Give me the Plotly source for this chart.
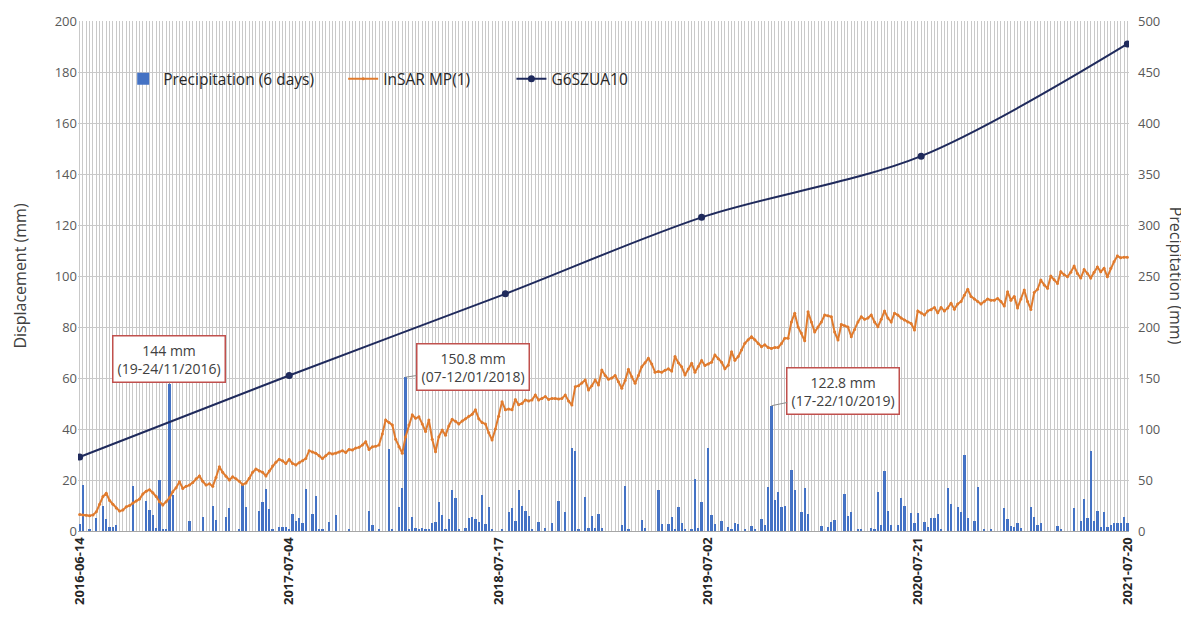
import plotly.graph_objects as go

# ---------------- data ----------------
tick_labels = ["2016-06-14", "2017-07-04", "2018-07-17", "2019-07-02", "2020-07-21", "2021-07-20"]
tick_index = [0, 63, 126, 189, 252, 315]

precip_6days = [
    7, 45, 0, 1, 0, 13, 0, 25, 12, 4, 4, 6, 0, 0, 0, 0, 44, 0, 0, 0,
    29, 21, 16, 3, 50, 2, 2, 144, 35, 0, 0, 0, 0, 10, 0, 0, 0, 14, 0, 0,
    25, 11, 0, 0, 14, 23, 0, 0, 1, 45, 24, 0, 0, 0, 20, 28, 41, 22, 2, 0,
    4, 4, 4, 1, 17, 10, 13, 8, 41, 0, 17, 34, 1, 1, 0, 9, 0, 16, 0, 0,
    0, 2, 0, 0, 0, 0, 0, 20, 6, 0, 2, 0, 0, 80, 1, 0, 24, 42, 150.8, 1,
    14, 3, 1, 3, 2, 2, 8, 9, 28, 16, 2, 12, 40, 32, 2, 0, 3, 13, 14, 12,
    9, 35, 7, 24, 2, 0, 0, 2, 0, 19, 23, 10, 40, 25, 20, 15, 2, 0, 9, 0,
    3, 0, 8, 0, 29, 0, 19, 0, 81, 78, 1, 0, 33, 3, 15, 3, 17, 3, 0, 0,
    0, 0, 0, 6, 44, 2, 0, 0, 0, 11, 3, 0, 0, 0, 40, 7, 0, 7, 14, 2,
    24, 8, 1, 0, 2, 51, 3, 28, 0, 81, 16, 7, 0, 10, 0, 4, 2, 8, 7, 0,
    1, 0, 5, 1, 0, 12, 6, 43, 122.8, 30, 38, 24, 25, 0, 60, 40, 0, 19, 42, 17,
    0, 0, 0, 5, 0, 4, 9, 11, 0, 0, 36, 15, 19, 0, 1, 1, 0, 0, 3, 2,
    38, 6, 59, 20, 6, 0, 6, 32, 25, 0, 18, 8, 18, 0, 9, 4, 13, 13, 17, 1,
    0, 42, 26, 0, 24, 19, 75, 13, 0, 10, 43, 0, 1, 0, 2, 0, 0, 0, 23, 12,
    5, 4, 8, 3, 0, 0, 24, 14, 6, 8, 0, 0, 0, 0, 5, 1, 0, 0, 0, 23,
    0, 10, 31, 13, 78, 10, 20, 4, 19, 4, 6, 8, 8, 8, 14, 8,
]

insar_mp1 = [
    6.5, 6.3, 6.2, 6.0, 6.3, 7.5, 10.5, 13.5, 14.8, 12, 10.5, 9, 7.8, 8.2, 9.5, 10, 11, 11.8, 12.5, 14.5,
    15.6, 16.2, 15, 13.5, 11.5, 10.2, 11.5, 13, 15.4, 17, 19.3, 16.7, 17.5, 18, 19, 20.5, 21.6, 19.5, 18, 18.5,
    17.5, 21, 25.2, 23, 21.5, 20, 21.3, 20.5, 19.5, 18.2, 18.8, 20.7, 23, 24.3, 23.5, 23, 21.6, 23.5, 25.5, 27,
    28.1, 27.5, 26.5, 28, 26.5, 25.9, 26.8, 27.5, 28.4, 31.5, 31, 30.5, 29.5, 28.4, 29.5, 30.6, 30.2, 30.5, 31, 31.5,
    30.8, 32, 31.8, 32.5, 32.8, 33.7, 35, 32, 33, 33.2, 33.7, 38, 43.5, 42.5, 41.6, 36, 33, 30.5, 37, 41.6,
    45.5, 44.2, 44.8, 42, 39, 43.5, 36, 31.1, 37, 39.6, 37.5, 41.2, 43.8, 43, 42, 43.1, 44, 45, 45.8, 47.5,
    44, 42.5, 42, 38.5, 35.7, 40, 45, 50.7, 47.5, 47.8, 47.5, 51.6, 49.5, 50, 51.4, 51, 51.4, 53.3, 51.4, 52,
    52.7, 51.6, 52, 52, 51.8, 52, 53.3, 51, 49.4, 56.6, 57, 58, 59.2, 55.3, 57, 59.2, 57.3, 63.1, 61, 59.5,
    60, 61, 58.5, 56, 59, 63.4, 60.5, 57.9, 61, 64.4, 66, 67.7, 65.5, 62.3, 62.5, 62.3, 63, 63.6, 62.7, 68.4,
    66, 64.4, 61.2, 63.5, 65.8, 62.3, 64.5, 66.9, 64.9, 65.5, 66.2, 69, 67.5, 66.2, 63.6, 65, 70.3, 67, 68.4, 71,
    73.6, 75, 76.2, 75, 73.5, 72.3, 73, 72, 71.6, 72, 72, 73.5, 75.6, 75.6, 82, 85.4, 80, 77.6, 74.6, 86,
    82, 78, 80, 82, 84.7, 84.4, 84, 78, 74.9, 81, 80.5, 80, 76.2, 79, 82, 84, 83, 83.5, 84.7, 82,
    80.1, 83, 86.3, 83.5, 82, 85.4, 84.7, 83.5, 82.7, 82, 81.4, 78.8, 86.3, 85.5, 84.7, 86.3, 86.8, 87.6, 85.6, 87.6,
    86.3, 87.5, 89.3, 87, 89, 90, 92.5, 94.8, 92, 91, 90, 89, 90, 91, 90.5, 90.5, 91.2, 90, 88.2, 93.8,
    90.5, 92, 87.5, 91, 94.5, 90, 86.9, 93.5, 94.8, 98.4, 96.5, 95.2, 100, 98.5, 97.1, 101.7, 100.5, 99.7, 101.5, 103.9,
    101, 99.2, 102.5, 101, 99.2, 101.5, 103.5, 101.7, 103, 99.7, 103, 105.6, 107.8, 107.2, 107.4, 107.4,
]

gnss_index = [0, 63, 128, 187, 253, 315]
gnss_g6szua10 = [29, 61, 93, 123, 147, 191]

peak_labels = ["144 mm<br>(19-24/11/2016)", "150.8 mm<br>(07-12/01/2018)", "122.8 mm<br>(17-22/10/2019)"]
peak_index = [27, 98, 208]
peak_offsets = [(0, -25), (67, -10), (72, -15)]

cat = list(range(len(precip_6days)))

FONT = "Open Sans"
BLUE = "#4472C4"
ORANGE = "#E07B2E"
NAVY = "#1F2A5C"
NB = "\u00a0"

fig = go.Figure()
fig.add_trace(go.Bar(
    x=cat, y=precip_6days, name="Precipitation (6 days)" + NB * 6, marker_color=BLUE,
    marker_line_width=0, width=0.7, yaxis="y",
))
fig.add_trace(go.Scatter(
    x=list(range(len(insar_mp1))), y=insar_mp1, name="InSAR MP(1)" + NB * 9, mode="lines+markers",
    line=dict(color=ORANGE, width=2), marker=dict(size=3, color=ORANGE), yaxis="y2",
))
fig.add_trace(go.Scatter(
    x=gnss_index, y=gnss_g6szua10, name="G6SZUA10", mode="lines+markers",
    line=dict(color=NAVY, width=2, shape="spline", smoothing=0.9),
    marker=dict(size=7, color=NAVY), yaxis="y2",
))

annotations = []
for lbl, idx, (ax, ay) in zip(peak_labels, peak_index, peak_offsets):
    annotations.append(dict(
        x=idx, y=precip_6days[idx], xref="x", yref="y", text=lbl,
        showarrow=True, arrowhead=0, arrowwidth=1, arrowcolor="#8c8c8c",
        ax=ax, ay=ay, bgcolor="white", bordercolor="#C0504D", borderwidth=1.5,
        borderpad=4, font=dict(family=FONT, size=14, color="#404040"),
    ))

annotations.append(dict(
    text="Precipitation (mm)", xref="paper", yref="paper", x=1.045, y=0.5,
    xanchor="center", yanchor="middle",
    showarrow=False, textangle=90, font=dict(family=FONT, size=16, color="#404040"),
))

# page body adds an 8 px offset, so the figure is 8 px smaller and margins shifted
fig.update_layout(
    width=1181, height=617,
    margin=dict(l=70, r=60, t=13, b=94),
    paper_bgcolor="white", plot_bgcolor="white",
    font=dict(family=FONT, color="#595959"),
    bargap=0,
    xaxis=dict(
        range=[-0.5, len(cat) - 0.5], automargin=False,
        tickmode="array", tickvals=tick_index, ticktext=tick_labels,
        tickangle=-90, tickfont=dict(family=FONT, size=13, color="#262626", weight="bold"),
        showgrid=True, gridcolor="#c9c9c9", gridwidth=1,
        minor=dict(tickmode="linear", tick0=0, dtick=1, showgrid=True, gridcolor="#c9c9c9", gridwidth=1),
        showline=True, linecolor="#a6a6a6", linewidth=1, zeroline=False, ticks="",
    ),
    yaxis=dict(
        side="right", range=[0, 500], dtick=50, automargin=False, ticklabelstandoff=8,
        tickfont=dict(family=FONT, size=13, color="#595959"),
        showgrid=True, gridcolor="#c9c9c9", gridwidth=1, zeroline=False, ticks="",
    ),
    yaxis2=dict(
        overlaying="y", side="left", range=[0, 200], dtick=20, automargin=False,
        tickfont=dict(family=FONT, size=13, color="#595959"),
        title=dict(text="Displacement (mm)", font=dict(family=FONT, size=16, color="#404040"), standoff=24),
        showgrid=False, zeroline=False, ticks="",
    ),
    legend=dict(
        orientation="h", x=0.043, y=0.886, xanchor="left", yanchor="middle",
        bgcolor="rgba(0,0,0,0)", font=dict(family=FONT, size=15.5, color="#262626"),
        itemwidth=30, traceorder="normal",
    ),
    shapes=[dict(type="rect", xref="paper", yref="paper", x0=0.016, x1=0.5585, y0=0.841, y1=0.933,
                 fillcolor="white", line_width=0, layer="between")],
    annotations=annotations,
)

fig.write_html("out.html")
